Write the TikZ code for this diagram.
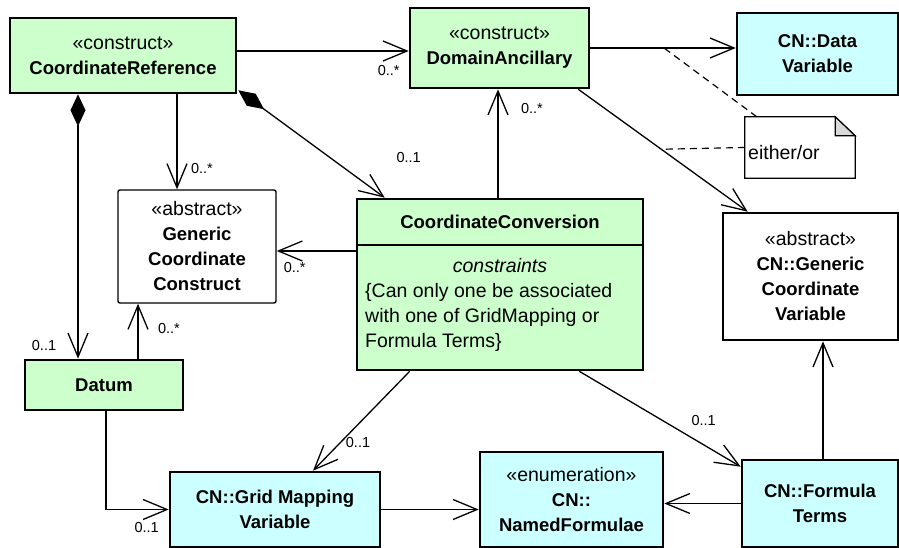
\documentclass[tikz,border=0pt]{standalone}
\usepackage{fontspec}
\setmainfont{Liberation Sans}
\usetikzlibrary{arrows.meta}

\definecolor{constructgreen}{RGB}{204,255,204}
\definecolor{cfcyan}{RGB}{204,255,255}
\definecolor{foldgray}{RGB}{217,217,217}

\newcommand\clsname[1]{{\fontsize{18.5}{25}\selectfont\bfseries #1}}

\begin{document}
\begin{tikzpicture}[x=1pt, y=-1pt]
	\tikzset{box/.style={draw, rectangle, align=center, inner sep=0pt, line width=2.6pt, font=\fontsize{19.5}{25}\selectfont},
		greenbox/.style={box, fill=constructgreen},
		cyanbox/.style={box, fill=cfcyan},
		abstractbox/.style={box, fill=white},
		edge/.style={-{Straight Barb[length=24pt,width=20pt]}, line width=1.3pt},
		comp/.style={{Diamond[length=32pt,width=15pt]}-{Straight Barb[length=24pt,width=20pt]}, line width=1.3pt},
		mult/.style={font=\fontsize{14.5}{16}\selectfont, inner sep=0pt},
		tie/.style={dash pattern=on 7pt off 5pt, line width=1.2pt}}
	\useasboundingbox (0,0) rectangle (899,548);

	\node[greenbox, minimum width=226, minimum height=75] (cr) at (123,55.5) {«construct»\\\clsname{CoordinateReference}};
	\node[greenbox, minimum width=179, minimum height=80] (da) at (499.5,48) {«construct»\\\clsname{DomainAncillary}};
	\node[cyanbox, minimum width=161, minimum height=82] (dv) at (817.5,54) {\clsname{CN::Data}\\\clsname{Variable}};
	\node[abstractbox, line width=1.4pt, rounded corners=2pt, minimum width=158, minimum height=113] (gcc) at (197,246.5) {«abstract»\\\clsname{Generic}\\\clsname{Coordinate}\\\clsname{Construct}};
	\node[abstractbox, minimum width=175, minimum height=127] (gcv) at (810.5,276.5) {«abstract»\\\clsname{CN::Generic}\\\clsname{Coordinate}\\\clsname{Variable}};
	\node[greenbox, minimum width=158, minimum height=50] (datum) at (104,385) {\clsname{Datum}};
	\node[cyanbox, minimum width=210, minimum height=75] (gm) at (275,509.5) {\clsname{CN::Grid Mapping}\\\clsname{Variable}};
	\node[cyanbox, minimum width=183, minimum height=95] (nf) at (571.5,499.5) {«enumeration»\\\clsname{CN::}\\\clsname{NamedFormulae}};
	\node[cyanbox, minimum width=156, minimum height=87] (ft) at (820,503.5) {\clsname{CN::Formula}\\\clsname{Terms}};

	\node[greenbox, minimum width=286, minimum height=171] (cc) at (500,284.5) {};
	\node[font=\fontsize{19.5}{25}\selectfont] (cchead) at (cc.north |- 0,222) {\clsname{CoordinateConversion}};
	\draw[line width=2.6pt] (cc.west |- 0,245) -- (cc.east |- 0,245);
	\node[font=\fontsize{19.5}{25}\selectfont\itshape, anchor=base] (ccstereo) at (cc.north |- 0,272) {constraints};
	\node[font=\fontsize{19.5}{25}\selectfont, align=left, anchor=base west, inner sep=0pt] (ccbody) at (365,347) {\{Can only one be associated\\with one of GridMapping or\\Formula Terms\}};

	\node[minimum width=110, minimum height=61, inner sep=0pt] (note) at (800,147.5) {};
	\draw[line width=1.2pt, fill=white] (note.south west) -- (note.north west) -- ([xshift=-20pt]note.north east) -- ([yshift=-19pt]note.north east) -- (note.south east) -- cycle;
	\draw[line width=1.2pt, fill=foldgray] ([xshift=-20pt]note.north east) -- ([xshift=-20pt,yshift=-19pt]note.north east) -- ([yshift=-19pt]note.north east) -- cycle;
	\node[font=\fontsize{19.5}{25}\selectfont, anchor=base west, inner sep=0pt] (notetext) at (748,160) {either/or};

	\draw[edge] (cr.east |- 0,51) -- node[at end, mult, shift={(-20,20)}]{0..*} (da.west |- 0,51);
	\draw[comp] (78,0 |- cr.south) -- node[at end, mult, shift={(-34,-13)}]{0..1} (78,0 |- datum.north);
	\draw[edge] (177,0 |- cr.south) -- node[at end, mult, shift={(25,-21)}]{0..*} (177,0 |- gcc.north);
	\draw[comp] ([xshift=1pt,yshift=4pt]cr.south east) -- node[at end, mult, shift={(24,-40)}]{0..1} ([xshift=29pt]cc.north west);
	\draw[edge] (cc.west |- 0,251) -- node[at end, mult, shift={(18,17)}]{0..*} (gcc.east |- 0,251);
	\draw[edge] (498,0 |- cc.north) -- node[at end, mult, shift={(34,19)}]{0..*} (498,0 |- da.south);
	\draw[edge] (da.east |- 0,48) -- coordinate[pos=0.507] (tieA) (dv.west |- 0,48);
	\draw[edge] ([xshift=-12pt]da.south east) -- coordinate[pos=0.49] (tieB) ([xshift=26pt]gcv.north west);
	\draw[edge] (138,0 |- datum.north) -- node[at end, mult, shift={(31,25)}]{0..*} (138,0 |- gcc.south);
	\draw[edge] (106,0 |- datum.south) |- node[at end, mult, shift={(-22,18)}]{0..1} (gm.west);
	\draw[edge] ([xshift=54pt]cc.south west) -- node[at end, mult, shift={(45,-28)}]{0..1} ([xshift=38pt]gm.north);
	\draw[edge] ([xshift=-65pt]cc.south east) -- node[at end, mult, shift={(-37,-46)}]{0..1} ([yshift=-8pt]ft.north west);
	\draw[edge] (gm.east) -- (nf.west |- gm.east);
	\draw[edge] (ft.west) -- (nf.east |- ft.west);
	\draw[edge] (823,0 |- ft.north) -- (823,0 |- gcv.south);

	\draw[tie] ([xshift=12pt]note.north west) -- (tieA);
	\draw[tie] (note.west) -- (tieB);
\end{tikzpicture}
\end{document}
